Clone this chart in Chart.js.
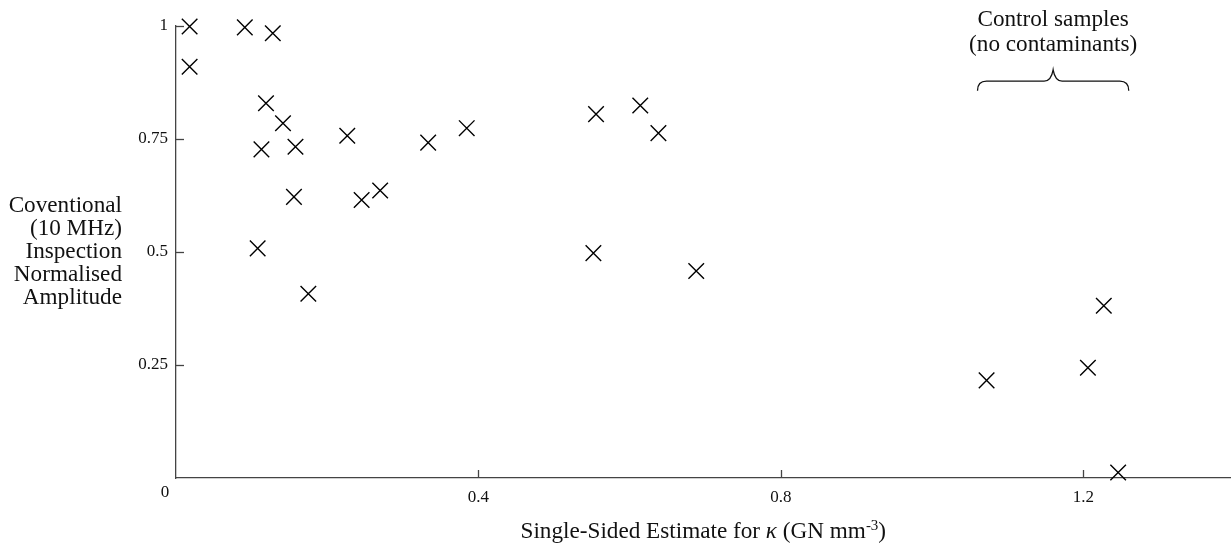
<!DOCTYPE html>
<html>
<head>
<meta charset="utf-8">
<script src="https://cdn.jsdelivr.net/npm/chart.js@4.4.1/dist/chart.umd.min.js"></script>
<style>
  html, body { margin: 0; padding: 0; background: #fff; overflow: hidden; width: 1231px; height: 543px; }
  #wrap { width: 1247px; height: 543px; }
</style>
</head>
<body>
<div id="wrap"><canvas id="c" width="1247" height="543"></canvas></div>
<script>
// ---- data ----
const kappaValues = [0.018, 0.018, 0.091, 0.128, 0.119, 0.1415, 0.113, 0.158, 0.156, 0.108, 0.175,
                     0.2265, 0.2455, 0.270, 0.3335, 0.3845, 0.5555, 0.552, 0.614, 0.638, 0.688,
                     1.072, 1.206, 1.227, 1.246];
const amplitudeValues = [0.999, 0.910, 0.997, 0.984, 0.829, 0.785, 0.727, 0.733, 0.622, 0.508, 0.4075,
                         0.757, 0.615, 0.636, 0.742, 0.774, 0.805, 0.4975, 0.824, 0.763, 0.458,
                         0.216, 0.244, 0.381, 0.012];
const xTickValues = [0, 0.4, 0.8, 1.2];
const yTickValues = [0, 0.25, 0.5, 0.75, 1];
const yTitleLines = ["Coventional", "(10 MHz)", "Inspection", "Normalised", "Amplitude"];
const annotationLines = ["Control samples", "(no contaminants)"];
const braceRange = [1.06, 1.26];

const FONT = '"Liberation Serif", "Times New Roman", serif';
const AXIS_COLOR = '#444';
const TITLE_SIZE = 23.2;
const TICK_SIZE = 17;

const points = kappaValues.map((x, i) => ({ x: x, y: amplitudeValues[i] }));

const decorPlugin = {
  id: 'decor',
  afterDraw(chart) {
    const ctx = chart.ctx;
    const xs = chart.scales.x, ys = chart.scales.y;
    const area = chart.chartArea;
    ctx.save();
    // inward tick marks
    ctx.strokeStyle = AXIS_COLOR;
    ctx.lineWidth = 1.3;
    xTickValues.forEach(v => {
      if (v === 0) return;
      const px = Math.round(xs.getPixelForValue(v)) + 0.5;
      ctx.beginPath(); ctx.moveTo(px, area.bottom); ctx.lineTo(px, area.bottom - 8); ctx.stroke();
    });
    yTickValues.forEach(v => {
      if (v === 0) return;
      const py = Math.round(ys.getPixelForValue(v)) + 0.5;
      ctx.beginPath(); ctx.moveTo(area.left, py); ctx.lineTo(area.left + 8, py); ctx.stroke();
    });
    // shared origin label "0"
    ctx.fillStyle = '#111';
    ctx.font = TICK_SIZE + 'px ' + FONT;
    ctx.textAlign = 'center'; ctx.textBaseline = 'middle';
    ctx.fillText('0', area.left - 11, area.bottom + 15);

    // y title (multi-line, right aligned)
    ctx.font = TITLE_SIZE + 'px ' + FONT;
    ctx.textAlign = 'right'; ctx.textBaseline = 'middle';
    const yc = ys.getPixelForValue(0.5);
    yTitleLines.forEach((t, i) => {
      ctx.fillText(t, 122, yc + (i - 2) * 23.2);
    });

    // x title with italic kappa and superscript
    const parts = [
      { t: 'Single-Sided Estimate for ', f: TITLE_SIZE + 'px ' + FONT, dy: 0 },
      { t: 'κ', f: 'italic ' + TITLE_SIZE + 'px ' + FONT, dy: 0 },
      { t: ' (GN mm', f: TITLE_SIZE + 'px ' + FONT, dy: 0 },
      { t: '-3', f: '15px ' + FONT, dy: -8 },
      { t: ')', f: TITLE_SIZE + 'px ' + FONT, dy: 0 }
    ];
    let total = 0;
    parts.forEach(p => { ctx.font = p.f; p.w = ctx.measureText(p.t).width; total += p.w; });
    let x0 = (area.left + area.right) / 2 - total / 2 - 2;
    const baseY = area.bottom + 60;
    ctx.textAlign = 'left'; ctx.textBaseline = 'alphabetic';
    parts.forEach(p => { ctx.font = p.f; ctx.fillText(p.t, x0, baseY + p.dy); x0 += p.w; });

    // annotation text
    const cx = xs.getPixelForValue((braceRange[0] + braceRange[1]) / 2);
    ctx.font = TITLE_SIZE + 'px ' + FONT;
    ctx.textAlign = 'center'; ctx.textBaseline = 'middle';
    ctx.fillText(annotationLines[0], cx, ys.getPixelForValue(1.014));
    ctx.fillText(annotationLines[1], cx, ys.getPixelForValue(0.959));

    // curly brace
    const bl = xs.getPixelForValue(braceRange[0]);
    const br = xs.getPixelForValue(braceRange[1]);
    const yLine = ys.getPixelForValue(0.878);
    const yEnd = ys.getPixelForValue(0.857);
    const yPeak = ys.getPixelForValue(0.903);
    ctx.strokeStyle = '#111';
    ctx.lineWidth = 1.3;
    ctx.beginPath();
    ctx.moveTo(bl, yEnd);
    ctx.quadraticCurveTo(bl, yLine, bl + 9, yLine);
    ctx.lineTo(cx - 9, yLine);
    ctx.quadraticCurveTo(cx - 2, yLine, cx, yPeak);
    ctx.quadraticCurveTo(cx + 2, yLine, cx + 9, yLine);
    ctx.lineTo(br - 9, yLine);
    ctx.quadraticCurveTo(br, yLine, br, yEnd);
    ctx.stroke();
    ctx.restore();
  }
};

new Chart(document.getElementById('c'), {
  type: 'scatter',
  data: {
    datasets: [{
      data: points,
      pointStyle: 'crossRot',
      pointRadius: 11,
      pointHoverRadius: 11,
      borderColor: '#000',
      backgroundColor: '#000',
      borderWidth: 1.4,
      clip: false
    }]
  },
  options: {
    responsive: false,
    animation: false,
    devicePixelRatio: 1,
    layout: { padding: { top: 26, right: 6, left: 0, bottom: 0 } },
    plugins: { legend: { display: false }, tooltip: { enabled: false } },
    scales: {
      x: {
        type: 'linear', min: 0, max: 1.4,
        grid: { display: false, drawTicks: false },
        border: { display: true, color: AXIS_COLOR, width: 1.3 },
        afterBuildTicks: s => { s.ticks = xTickValues.map(v => ({ value: v })); },
        afterFit: s => { s.height = 543 - 478; },
        ticks: {
          padding: 9, color: '#111', maxRotation: 0,
          font: { family: FONT, size: TICK_SIZE },
          callback: v => (v === 0 ? '' : String(v))
        }
      },
      y: {
        type: 'linear', min: 0, max: 1,
        grid: { display: false, drawTicks: false },
        border: { display: true, color: AXIS_COLOR, width: 1.3 },
        afterBuildTicks: s => { s.ticks = yTickValues.map(v => ({ value: v })); },
        afterFit: s => { s.width = 176; },
        ticks: {
          padding: 8, color: '#111',
          font: { family: FONT, size: TICK_SIZE },
          callback: v => (v === 0 ? '' : String(v))
        }
      }
    }
  },
  plugins: [decorPlugin]
});
</script>
</body>
</html>
